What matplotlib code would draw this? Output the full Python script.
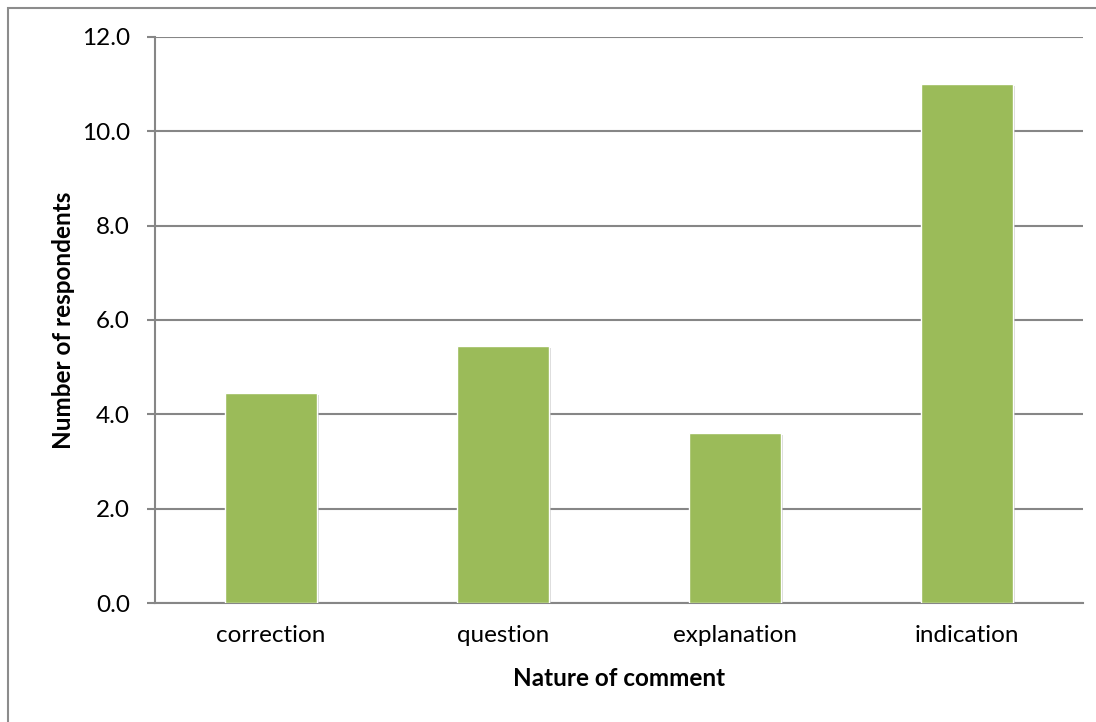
import matplotlib
matplotlib.use("Agg")
import matplotlib.pyplot as plt
import matplotlib.patheffects as pe
from matplotlib.patches import Rectangle

# data
categories = ["correction", "question", "explanation", "indication"]
respondents = [4.45, 5.45, 3.6, 11.0]
y_ticks = [0, 2, 4, 6, 8, 10, 12]

plt.rcParams['font.family'] = ['Lato', 'DejaVu Sans']

fig = plt.figure(figsize=(10.96, 7.22), dpi=100)
ax = fig.add_axes([0.1414, 0.1648, 0.8467, 0.784])

grid_col = "#868686"
bar_col = "#9BBB59"

x = range(len(categories))
bars = ax.bar(x, respondents, width=0.4, color=bar_col, edgecolor="white",
              linewidth=1.0, zorder=3)
for b in bars:
    b.set_path_effects([pe.SimplePatchShadow(offset=(1.5, -1.5), shadow_rgbFace="#b0b0b0", alpha=0.5),
                        pe.Normal()])

ax.set_xlim(-0.5, len(categories) - 0.5)
ax.set_ylim(0, 12)
ax.set_yticks(y_ticks)
ax.set_yticklabels([f"{v:.1f}" for v in y_ticks])
ax.set_xticks(list(x))
ax.set_xticklabels(categories)

ax.yaxis.grid(True, color=grid_col, linewidth=1.5, zorder=0)
ax.set_axisbelow(True)

for s in ["top", "right"]:
    ax.spines[s].set_visible(False)
ax.spines["left"].set_color(grid_col)
ax.spines["left"].set_linewidth(1.5)
ax.spines["bottom"].set_color(grid_col)
ax.spines["bottom"].set_linewidth(1.5)

ax.tick_params(axis="y", length=6, width=1.5, color=grid_col, pad=12, labelsize=17.5, labelcolor="black")
ax.tick_params(axis="x", length=0, pad=16, labelsize=17.5, labelcolor="black")

ax.set_ylabel("Number of respondents", fontsize=17.5, fontweight="bold", labelpad=5)
ax.set_xlabel("Nature of comment", fontsize=17.5, fontweight="bold", labelpad=15)

# outer chart border (runs off the right/bottom of the image)
fig.patches.append(Rectangle((8 / 1096, -0.01), 1.02, 1 - 8 / 722 + 0.01, transform=fig.transFigure,
                             fill=False, edgecolor="#8c8c8c", linewidth=1.5))

fig.savefig("out.png", dpi=100)
